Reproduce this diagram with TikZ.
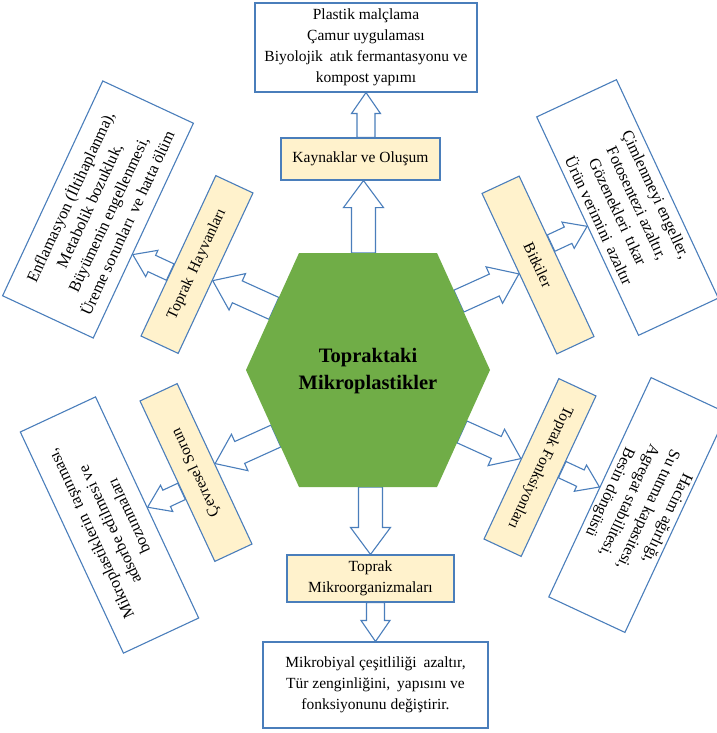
\documentclass[tikz,border=0pt]{standalone}
\usepackage{fontspec}
\setmainfont{Liberation Serif}
\usetikzlibrary{calc,backgrounds}
\definecolor{bord}{RGB}{74,126,187}
\definecolor{yel}{RGB}{255,242,204}
\definecolor{grn}{RGB}{112,173,71}
\tikzset{
  blockarrow/.style n args={3}{
    to path={
      let \p1=(\tikztostart), \p2=(\tikztotarget),
          \n1={atan2(\y2-\y1,\x2-\x1)},
          \n2={veclen(\x2-\x1,\y2-\y1)} in
      [shift={(\p1)},rotate=\n1]
      (0pt,-#1pt/2) -- ({\n2*1pt-#3pt},-#1pt/2) -- ({\n2*1pt-#3pt},-#2pt/2)
      -- ({\n2*1pt},0pt) -- ({\n2*1pt-#3pt},#2pt/2) -- ({\n2*1pt-#3pt},#1pt/2)
      -- (0pt,#1pt/2) -- cycle
    }
  },
  boxline/.style={draw=bord, line width=1.1pt},
  lab/.style={boxline, fill=yel, font=\fontsize{15.5}{20.5}\selectfont, align=center, inner sep=2pt},
  txt/.style={boxline, fill=white, font=\fontsize{15.5}{21}\selectfont, align=center, inner sep=2pt},
  dtxt/.style={txt, font=\fontsize{16.2}{21}\selectfont},
  arrA/.style={boxline, fill=white, line join=miter, blockarrow={24}{40}{27}},
  arrB/.style={boxline, fill=white, line join=miter, blockarrow={18}{29}{21}},
  diaglab/.style={lab, minimum width=177pt, minimum height=41pt}
}
\begin{document}
\begin{tikzpicture}[x=1pt,y=-1pt]
\useasboundingbox (0,0) rectangle (716,733);

% hexagon
\coordinate (hT1) at (299,253);
\coordinate (hT2) at (437,253);
\coordinate (hR) at (490,370);
\coordinate (hB2) at (437,487);
\coordinate (hB1) at (299,487);
\coordinate (hL) at (246,370);
\fill[grn] (hT1) -- (hT2) -- (hR) -- (hB2) -- (hB1) -- (hL) -- cycle;
\node[font=\bfseries\fontsize{20.5}{27}\selectfont, align=center] (hex) at (368,371) {Topraktaki\\Mikroplastikler};

% top
\node[txt, minimum width=222pt, minimum height=89pt] (topT) at (366,47.5)
  {Plastik malçlama\\Çamur uygulaması\\Biyolojik\hspace{3pt} atık fermantasyonu ve\\kompost yapımı};
\node[lab, minimum width=159pt, minimum height=42pt] (kay) at (360.5,159) {Kaynaklar ve Oluşum};

% bottom
\node[lab, minimum width=167pt, minimum height=47pt] (mik) at (370.5,578.5) {Toprak\\Mikroorganizmaları};
\node[txt, minimum width=225pt, minimum height=86pt] (botT) at (375.5,685)
  {Mikrobiyal çeşitliliği\hspace{3pt} azaltır,\\Tür zenginliğini,\hspace{3pt} yapısını ve\\fonksiyonunu değiştirir.};

% upper left
\node[diaglab, rotate=65] (hay) at (197,264.5) {Toprak\hspace{3pt} Hayvanları};
\node[dtxt, rotate=65, minimum width=237pt, minimum height=100pt] (hayT) at (98,209.5)
  {Enflamasyon (İltihaplanma),\\Metabolik bozukluk,\\Büyümenin engellenmesi,\\Üreme sorunları\hspace{3pt} ve hatta ölüm};

% upper right
\node[diaglab, rotate=-65] (bit) at (538,265) {Bitkiler};
\node[dtxt, rotate=-65, minimum width=241pt, minimum height=88pt] (bitT) at (627.5,207.5)
  {Çimlenmeyi engeller,\\Fotosentezi azaltır,\\Gözenekleri\hspace{3pt} tıkar\\Ürün verimini\hspace{3pt} azaltır};

% lower left
\node[diaglab, rotate=115] (cev) at (196,472.5) {Çevresel Sorun};
\node[dtxt, rotate=115, minimum width=244pt, minimum height=83pt] (cevT) at (109.5,525)
  {Mikroplastiklerin\hspace{3pt} taşınması,\\adsorbe edilmesi ve\\bozunmaları};

% lower right
\node[diaglab, rotate=-115] (fon) at (540,467.5) {Toprak Fonksiyonları};
\node[dtxt, rotate=-115, minimum width=242pt, minimum height=84pt] (fonT) at (638,505)
  {Hacim ağırlığı,\\Su tutma kapasitesi,\\Agregat stabilitesi,\\Besin döngüsü};

\coordinate (kayTip) at ($(kay.south)+(3,0)$);
\coordinate (hayTip) at ($(hay.south)!0.09!(hay.south west)$);
\coordinate (hayTTip) at ($(hayT.south)!0.22!(hayT.south west)$);

\begin{pgfonlayer}{background}
\fill[white] (0,0) rectangle (716,733);
% first level
\draw[arrA] ($(hT1)!(kayTip)!(hT2)$) to (kayTip);
\draw[arrA] ($(hB1)!(mik.north)!(hB2)$) to (mik.north);
\draw[arrA] ($(hL)!(hayTip)!(hT1)$) to (hayTip);
\draw[arrA] ($(hT2)!(bit.south)!(hR)$) to (bit.south);
\draw[arrA] ($(hL)!(cev.south)!(hB1)$) to (cev.south);
\draw[arrA] ($(hR)!(fon.south)!(hB2)$) to (fon.south);
% second level
\draw[arrB] ($(kay.north west)!(topT.south)!(kay.north east)$) to (topT.south);
\draw[arrB] ($(mik.south west)!(botT.north)!(mik.south east)$) to (botT.north);
\draw[arrB] ($(hay.north west)!(hayTTip)!(hay.north east)$) to (hayTTip);
\draw[arrB] ($(bit.north west)!(bitT.south)!(bit.north east)$) to (bitT.south);
\draw[arrB] ($(cev.north west)!(cevT.south)!(cev.north east)$) to (cevT.south);
\draw[arrB] ($(fon.north west)!(fonT.south)!(fon.north east)$) to (fonT.south);
\end{pgfonlayer}
\end{tikzpicture}
\end{document}
